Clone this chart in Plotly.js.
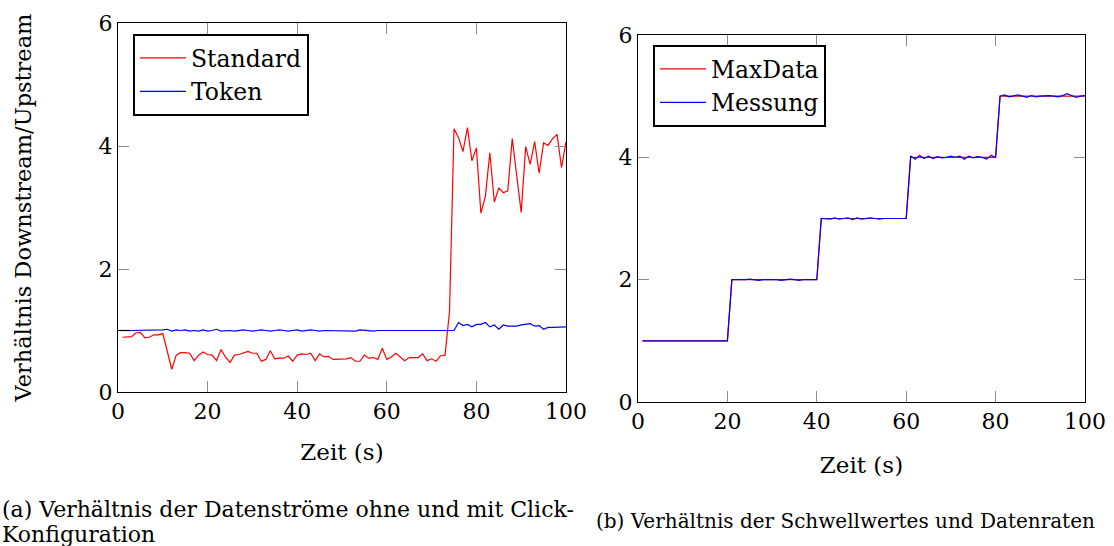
<!DOCTYPE html>
<html>
<head>
<meta charset="utf-8">
<script src="https://cdn.plot.ly/plotly-3.0.1.min.js"></script>
<style>html,body{margin:0;padding:0;background:#fff;}#chart{width:1114px;height:546px;}</style>
</head>
<body>
<div id="chart"></div>
<script>
// ---- Data ----
const xTicks = [0, 20, 40, 60, 80, 100];
const yTicks = [0, 2, 4, 6];

// (a) left chart
const standardX = [1,2,3,4,5,6,7,8,9,10,11,12,13,14,15,16,17,18,19,20,21,22,23,24,25,26,27,28,29,30,31,32,33,34,35,36,37,38,39,40,41,42,43,44,45,46,47,48,49,50,51,52,53,54,55,56,57,58,59,60,61,62,63,64,65,66,67,68,69,70,71,72,73,74,75,76,77,78,79,80,81,82,83,84,85,86,87,88,89,90,91,92,93,94,95,96,97,98,99,100];
const standardY = [0.89,0.90,0.90,0.96,0.97,0.88,0.89,0.93,0.93,0.95,0.68,0.37,0.60,0.64,0.64,0.63,0.51,0.60,0.65,0.61,0.60,0.51,0.69,0.57,0.48,0.60,0.61,0.64,0.66,0.63,0.63,0.50,0.53,0.67,0.54,0.55,0.55,0.585,0.50,0.60,0.62,0.61,0.63,0.51,0.62,0.57,0.58,0.53,0.53,0.53,0.54,0.56,0.50,0.50,0.60,0.55,0.56,0.53,0.71,0.53,0.57,0.63,0.57,0.51,0.56,0.56,0.56,0.62,0.51,0.54,0.50,0.59,0.60,1.31,4.28,4.14,3.91,4.30,3.76,3.97,2.91,3.18,3.89,3.09,3.32,3.24,3.27,4.12,3.50,2.92,3.99,3.70,4.07,3.56,4.05,4.01,4.12,4.19,3.65,4.07];

const tokenX = [3,4,5,6,7,8,9,10,11,12,13,14,15,16,17,18,19,20,21,22,23,24,25,26,27,28,29,30,31,32,33,34,35,36,37,38,39,40,41,42,43,44,45,46,47,48,49,50,51,52,53,54,55,56,57,58,59,60,61,62,63,64,65,66,67,68,69,70,71,72,73,74,75,76,77,78,79,80,81,82,83,84,85,86,87,88,89,90,91,92,93,94,95,96,97,98,99,100];
const tokenY = [1.0,1.0,1.0,1.0,1.0,1.0,1.0,1.01,1.02,0.99,1.01,1.0,1.01,0.99,1.0,0.99,1.01,0.99,1.0,1.02,0.99,1.0,1.0,0.99,1.0,1.01,1.0,0.99,1.0,1.01,1.0,0.99,1.0,1.01,1.0,0.99,1.0,1.01,0.99,1.0,1.01,1.0,0.99,1.0,1.0,1.0,1.0,1.0,1.0,1.0,0.99,1.01,1.0,1.0,0.99,1.0,1.0,1.0,1.01,1.0,1.0,1.0,1.01,1.0,1.0,1.0,1.0,1.0,1.01,1.0,1.0,1.0,1.0,1.13,1.08,1.10,1.06,1.10,1.10,1.13,1.06,1.09,1.02,1.09,1.07,1.07,1.07,1.09,1.10,1.11,1.07,1.08,1.02,1.05,1.05,1.05,1.06,1.06];

const baseX = [0, 3];
const baseY = [1, 1];

// (b) right chart
const timeX = [1,2,3,4,5,6,7,8,9,10,11,12,13,14,15,16,17,18,19,20,21,22,23,24,25,26,27,28,29,30,31,32,33,34,35,36,37,38,39,40,41,42,43,44,45,46,47,48,49,50,51,52,53,54,55,56,57,58,59,60,61,62,63,64,65,66,67,68,69,70,71,72,73,74,75,76,77,78,79,80,81,82,83,84,85,86,87,88,89,90,91,92,93,94,95,96,97,98,99,100];
const maxDataY = [1,1,1,1,1,1,1,1,1,1,1,1,1,1,1,1,1,1,1,1,2,2,2,2,2,2,2,2,2,2,2,2,2,2,2,2,2,2,2,2,3,3,3,3,3,3,3,3,3,3,3,3,3,3,3,3,3,3,3,3,4,4,4,4,4,4,4,4,4,4,4,4,4,4,4,4,4,4,4,4,5,5,5,5,5,5,5,5,5,5,5,5,5,5,5,5,5,5,5,5];
const messungY = [1.0,1.0,1.0,1.0,1.0,1.0,1.0,1.0,1.0,1.0,1.0,1.0,1.0,1.0,1.0,1.0,1.0,1.0,1.0,1.0,2.0,2.0,1.99,2.0,2.01,2.0,1.99,2.0,2.0,2.01,2.0,1.99,2.0,2.01,2.0,1.99,2.0,2.0,1.99,2.0,3.0,3.0,2.99,3.01,2.99,3.0,3.01,2.98,3.01,2.99,3.0,3.01,3.0,2.99,3.0,3.0,3.0,3.0,3.0,3.0,4.02,3.97,4.03,3.98,4.02,3.98,4.01,3.99,4.0,4.02,4.0,4.02,3.97,4.02,3.99,4.01,4.0,3.97,4.03,4.0,5.0,5.02,4.99,5.0,5.02,5.0,4.98,5.01,4.99,5.0,5.01,5.01,5.0,4.99,5.01,5.04,5.01,4.98,5.0,5.01];

const captionA1 = '(a) Verhältnis der Datenströme ohne und mit Click-';
const captionA2 = 'Konfiguration';
const captionB = '(b) Verhältnis der Schwellwertes und Datenraten';

// ---- Chart ----
const FONT = 'DejaVu Serif, serif';
const W = 1114, H = 546;
const px = v => v / W;
const py = v => 1 - v / H;

const traces = [
  {x: baseX, y: baseY, type: 'scatter', mode: 'lines', line: {color: '#000', width: 1.2}, showlegend: false, hoverinfo: 'skip', xaxis: 'x', yaxis: 'y'},
  {x: standardX, y: standardY, name: 'Standard', type: 'scatter', mode: 'lines', line: {color: '#ff0000', width: 1.2}, xaxis: 'x', yaxis: 'y', legend: 'legend'},
  {x: tokenX, y: tokenY, name: 'Token', type: 'scatter', mode: 'lines', line: {color: '#0000ff', width: 1.2}, xaxis: 'x', yaxis: 'y', legend: 'legend'},
  {x: timeX, y: maxDataY, name: 'MaxData', type: 'scatter', mode: 'lines', line: {color: '#ff0000', width: 1.2}, xaxis: 'x2', yaxis: 'y2', legend: 'legend2'},
  {x: timeX, y: messungY, name: 'Messung', type: 'scatter', mode: 'lines', line: {color: '#0000ff', width: 1.2}, xaxis: 'x2', yaxis: 'y2', legend: 'legend2'}
];

function xAxis(domain, anchor, standoff) {
  return {
    domain: domain, anchor: anchor, range: [0, 100], tickvals: xTicks, ticktext: xTicks.map(String),
    ticks: 'inside', ticklen: 11, tickcolor: '#8c8c8c', tickwidth: 1,
    showline: true, linecolor: '#000', linewidth: 1, mirror: 'ticks',
    showgrid: false, zeroline: false, tickfont: {size: 22},
    title: {text: 'Zeit (s)', font: {size: 23}, standoff: standoff}
  };
}
function yAxis(domain, anchor, title) {
  const a = {
    domain: domain, anchor: anchor, range: [0, 6], tickvals: yTicks, ticktext: yTicks.map(String),
    ticks: 'inside', ticklen: 11, tickcolor: '#8c8c8c', tickwidth: 1,
    showline: true, linecolor: '#000', linewidth: 1, mirror: 'ticks',
    showgrid: false, zeroline: false, tickfont: {size: 22}
  };
  if (title) a.title = {text: title, font: {size: 22.5}, standoff: 60};
  return a;
}

const layout = {
  width: W, height: H,
  margin: {l: 0, r: 0, t: 0, b: 0},
  paper_bgcolor: '#fff', plot_bgcolor: '#fff',
  font: {family: FONT, size: 22, color: '#000'},
  showlegend: true,
  xaxis: xAxis([px(118), px(566)], 'y', 20),
  yaxis: yAxis([py(392), py(23)], 'x', 'Verhältnis Downstream/Upstream'),
  xaxis2: xAxis([px(638), px(1085)], 'y2', 23),
  yaxis2: yAxis([py(402), py(35)], 'x2', null),
  legend: {x: px(133), y: py(34), xanchor: 'left', yanchor: 'top', bgcolor: '#fff', bordercolor: '#000', borderwidth: 2, font: {size: 23.5}, itemwidth: 46, tracegroupgap: 0},
  legend2: {x: px(653), y: py(45), xanchor: 'left', yanchor: 'top', bgcolor: '#fff', bordercolor: '#000', borderwidth: 2, font: {size: 23.5}, itemwidth: 46, tracegroupgap: 0},
  annotations: [
    {xref: 'paper', yref: 'paper', x: 0, y: py(509), xanchor: 'left', yanchor: 'middle', align: 'left', showarrow: false,
     text: captionA1, font: {size: 22}},
    {xref: 'paper', yref: 'paper', x: 0, y: py(534), xanchor: 'left', yanchor: 'middle', align: 'left', showarrow: false,
     text: captionA2, font: {size: 22}},
    {xref: 'paper', yref: 'paper', x: px(594), y: py(521), xanchor: 'left', yanchor: 'middle', align: 'left', showarrow: false,
     text: captionB, font: {size: 20}}
  ]
};

Plotly.newPlot('chart', traces, layout, {displayModeBar: false, staticPlot: true});
</script>
</body>
</html>
